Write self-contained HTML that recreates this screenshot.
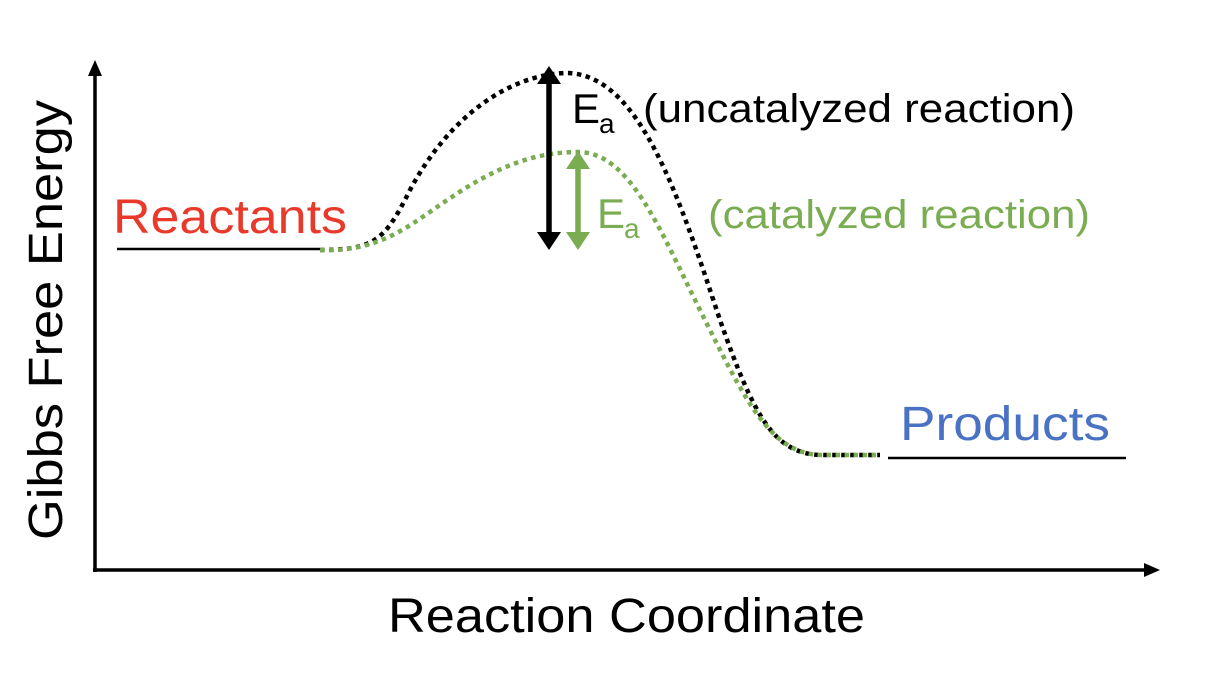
<!DOCTYPE html>
<html><head><meta charset="utf-8"><style>
html,body{margin:0;padding:0;background:#fff}
svg{display:block;font-family:"Liberation Sans",Arial,sans-serif}
</style></head><body>
<svg width="1218" height="690" viewBox="0 0 1218 690" xmlns="http://www.w3.org/2000/svg">
<line x1="95" y1="72" x2="95" y2="572" stroke="#000" stroke-width="3.5"/>
<polygon points="95,60 88,76 102,76" fill="#000"/>
<line x1="93" y1="570" x2="1148" y2="570" stroke="#000" stroke-width="3.5"/>
<polygon points="1160,570 1144,563 1144,577" fill="#000"/>
<line x1="117" y1="249" x2="320" y2="249" stroke="#000" stroke-width="2.5"/>
<line x1="888" y1="458" x2="1126" y2="458" stroke="#000" stroke-width="2.5"/>
<path d="M320,250 C375,250 385,240 410,190 C450,115 510,75 565,73 C640,72 680,200 720,320 C755,420 775,453 820,455 L880,455" fill="none" stroke="#000" stroke-width="4.5" stroke-dasharray="4.5,4.5"/>
<path d="M320,250 C380,252 410,225 440,205 C490,170 530,152 578,152 C630,152 660,230 700,310 C745,400 770,453 820,455 L880,455" fill="none" stroke="#7aac52" stroke-width="4.5" stroke-dasharray="4.5,4.5"/>
<line x1="549" y1="80" x2="549" y2="236" stroke="#000" stroke-width="5.5"/>
<polygon points="549,66 537,84 561,84" fill="#000"/>
<polygon points="549,250 537,232 561,232" fill="#000"/>
<line x1="578" y1="165" x2="578" y2="236" stroke="#7aac52" stroke-width="5.5"/>
<polygon points="578,151 566,169 590,169" fill="#7aac52"/>
<polygon points="578,250 566,232 590,232" fill="#7aac52"/>
<text x="113" y="233" font-size="48" fill="#e8392a" textLength="234" lengthAdjust="spacingAndGlyphs">Reactants</text>
<text x="900" y="440" font-size="48" fill="#4a72c4" textLength="210" lengthAdjust="spacingAndGlyphs">Products</text>
<text x="572" y="123" font-size="42" fill="#000">E</text>
<text x="599" y="133" font-size="28" fill="#000">a</text>
<text x="643" y="122" font-size="40" fill="#000" textLength="432" lengthAdjust="spacingAndGlyphs">(uncatalyzed reaction)</text>
<text x="597" y="228" font-size="42" fill="#7aac52">E</text>
<text x="624" y="238" font-size="28" fill="#7aac52">a</text>
<text x="708" y="228" font-size="40" fill="#7aac52" textLength="382" lengthAdjust="spacingAndGlyphs">(catalyzed reaction)</text>
<text x="388" y="632" font-size="48" fill="#000" textLength="477" lengthAdjust="spacingAndGlyphs">Reaction Coordinate</text>
<text transform="translate(62,540) rotate(-90)" font-size="48" fill="#000" textLength="440" lengthAdjust="spacingAndGlyphs">Gibbs Free Energy</text>
</svg>
</body></html>
